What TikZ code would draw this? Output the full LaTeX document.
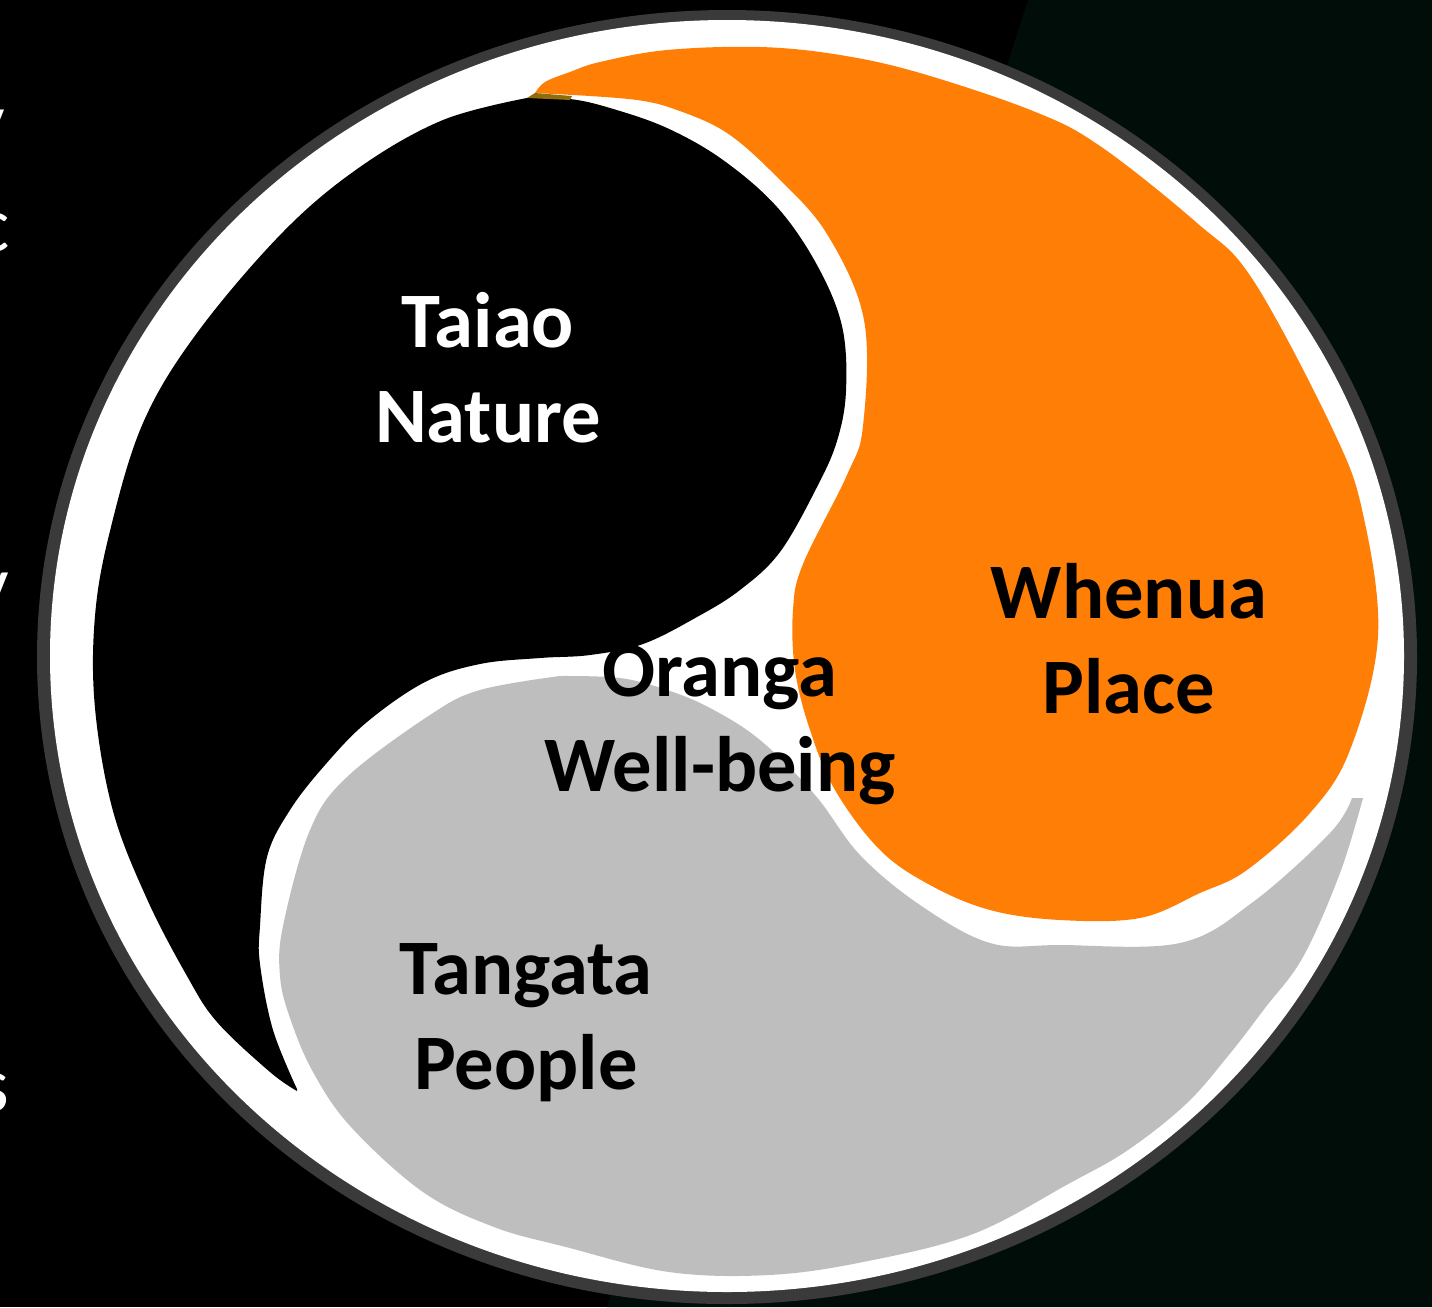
\documentclass[tikz,border=0pt]{standalone}
\usepackage{fontspec}
\setmainfont{Carlito}
\definecolor{darkbg}{HTML}{010D08}
\definecolor{ringgrey}{HTML}{3A3A3A}
\definecolor{orangefill}{HTML}{FF7E06}
\definecolor{greyfill}{HTML}{BFBEBF}
\definecolor{olivejoin}{HTML}{8F6C0C}
\tikzset{
  lab/.style={font=\fontsize{78.6}{95}\selectfont\bfseries,align=center,inner sep=0pt,anchor=center},
  frag/.style={font=\fontsize{78.6}{95}\selectfont,text=white,inner sep=0pt,anchor=base east},
  blob/.style={smooth,tension=0.6}
}
\begin{document}
\begin{tikzpicture}[x=1pt,y=-1pt]
\useasboundingbox (0,0) rectangle (1432,1307);
\fill[black] (0,0) rectangle (1432,1307);
\fill[darkbg] (1028,0) -- (607,1307) -- (1432,1307) -- (1432,0) -- cycle;
\begin{scope}
\clip (0,0) rectangle (1432,1307);
\node[frag] (f1) at (5,147) {y};
\node[frag] (f2) at (10,251) {c};
\node[frag] (f3) at (9,610) {y};
\node[frag] (f4) at (5,989) {l};
\node[frag] (f5) at (9,1111) {s};
\fill[ringgrey] (727,657) ellipse [x radius=690, y radius=647];
\fill[white] (727,656) ellipse [x radius=677, y radius=636];
\end{scope}
% Nature (black)
\fill[black] plot[blob] coordinates {(527,98) (570,99) (610,108) (667,128) (723,160) (777,207) (817,265) (842,326) (846,391) (837,441) (817,487) (780,552) (740,590) (697,617) (643,644) (590,655) (540,658) (480,664) (425,682) (367,722) (325,765) (290,810) (267,857) (260,926) (260,964) (273,1030) (297,1089)}
 -- plot[blob] coordinates {(297,1091) (270,1072) (217,1022) (187,976) (147,899) (113,811) (95,708) (95,616) (110,531) (143,423) (197,333) (283,232) (360,167) (443,120) (527,98)} -- cycle;
% Place (orange)
\fill[orangefill] plot[blob] coordinates {(535,93) (545,82) (570,72) (600,62) (667,50) (760,47) (840,55) (920,73) (1033,111) (1100,146) (1197,223) (1253,280) (1333,430) (1363,514) (1378,636) (1350,750) (1310,813) (1247,870) (1200,893) (1140,918) (1060,920) (990,910) (930,885) (880,850) (835,790) (810,730) (795,670) (793,610) (803,564) (847,475) (863,426) (864,320) (827,234) (777,177) (727,133) (677,110) (637,100) (573,95)} -- cycle;
\fill[olivejoin] (535,93) -- (572,96) -- (570,100) -- (527,98) -- cycle;
% People (grey)
\fill[greyfill] plot[blob] coordinates {(560,676) (620,678) (667,690) (710,708) (760,740) (815,795) (860,855) (920,905) (990,943) (1060,945) (1180,943) (1253,902) (1330,833) (1352,798)}
 -- (1363,798) -- plot[blob] coordinates {(1363,798) (1340,873) (1303,957) (1265,1008) (1228,1056) (1186,1104) (1128,1150) (1070,1183) (973,1234) (863,1262) (769,1275) (669,1272) (566,1247) (494,1227) (423,1192) (351,1127) (313,1072) (290,1018) (280,976) (283,926) (310,830) (347,777) (430,715) (480,690) (560,676)} -- cycle;
\node[lab,text=white] (taiao) at (488,368) {Taiao\\Nature};
\node[lab,text=black] (whenua) at (1129,639) {Whenua\\Place};
\node[lab,text=black] (oranga) at (720,725) {Oranga\\Well-being};
\node[lab,text=black] (tangata) at (526,1023) {Tangata\\People};
\end{tikzpicture}
\end{document}
